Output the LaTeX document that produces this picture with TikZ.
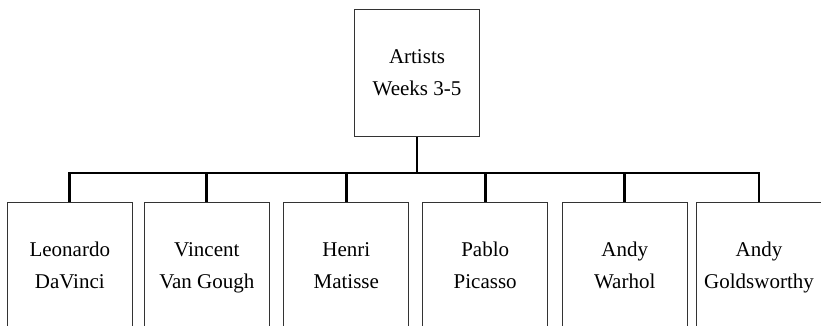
\documentclass[tikz,border=0pt]{standalone}
\usepackage{fontspec}
\setmainfont{Liberation Serif}
\usepackage{tikz}
\usetikzlibrary{positioning}
\definecolor{BoxLine}{HTML}{333333}
\tikzset{
  artbox/.style={draw=BoxLine,line width=1.2pt,minimum width=125pt,minimum height=127.7pt,
    inner sep=0pt,align=center,font=\fontsize{21}{32}\selectfont},
  branch/.style={line width=2.7pt,black}
}

\begin{document}
\begin{tikzpicture}[x=1pt,y=-1pt]
  \useasboundingbox (0,0) rectangle (821,326);
  \clip (0,0) rectangle (821,326);
  \node[artbox] (root) at (417,73) {Artists\strut\\Weeks 3-5\strut};
  \node[artbox] (leonardo) at (69.8,266) {Leonardo\strut\\DaVinci\strut};
  \node[artbox] (vincent) at (206.8,266) {Vincent\strut\\Van Gough\strut};
  \node[artbox] (henri) at (346.3,266) {Henri\strut\\Matisse\strut};
  \node[artbox] (pablo) at (485.2,266) {Pablo\strut\\Picasso\strut};
  \node[artbox] (warhol) at (624.7,266) {Andy\strut\\Warhol\strut};
  \node[artbox] (goldsworthy) at (759,266) {Andy\strut\\Goldsworthy\strut};
  \coordinate (bar) at (417,173);
  \draw[branch] (root.south) -- (bar);
  \draw[branch] (bar) -| (leonardo.north);
  \draw[branch] (bar) -| (vincent.north);
  \draw[branch] (bar) -| (henri.north);
  \draw[branch] (bar) -| (pablo.north);
  \draw[branch] (bar) -| (warhol.north);
  \draw[branch] (bar) -| (goldsworthy.north);
\end{tikzpicture}
\end{document}
